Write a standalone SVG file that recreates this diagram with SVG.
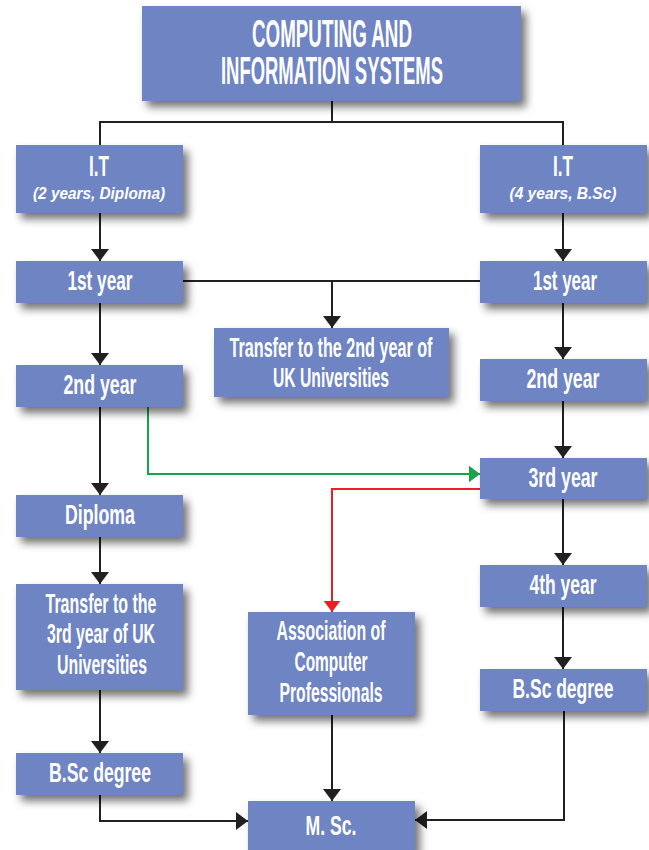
<svg xmlns="http://www.w3.org/2000/svg" width="649" height="850" viewBox="0 0 649 850">
<defs>
<filter id="sh" x="-20%" y="-20%" width="150%" height="160%">
<feDropShadow dx="5" dy="6" stdDeviation="4" flood-color="#000" flood-opacity="0.55"/>
</filter>
<marker id="ab" markerUnits="userSpaceOnUse" viewBox="0 0 12 18" markerWidth="12" markerHeight="18" refX="12" refY="9" orient="auto"><path d="M0,0 L12,9 L0,18 z" fill="#231f20"/></marker>
<marker id="ag" markerUnits="userSpaceOnUse" viewBox="0 0 12 18" markerWidth="11" markerHeight="18" refX="12" refY="9" orient="auto"><path d="M0,0 L12,9 L0,18 z" fill="#16a34a"/></marker>
<marker id="ar" markerUnits="userSpaceOnUse" viewBox="0 0 12 18" markerWidth="11" markerHeight="18" refX="12" refY="9" orient="auto"><path d="M0,0 L12,9 L0,18 z" fill="#ee1c25"/></marker>
</defs>
<style>
.box{fill:#6e84c3;filter:url(#sh)}
.t{font-family:"Liberation Sans",Arial,sans-serif;font-weight:bold;fill:#fff;text-anchor:middle;font-size:28px}
.m{font-size:27px}
.h{font-size:38px}
.i{font-size:16px;font-style:italic}
.c{fill:none;stroke:#231f20;stroke-width:2}
.g{fill:none;stroke:#16a34a;stroke-width:2}
.r{fill:none;stroke:#ee1c25;stroke-width:2}
</style>
<rect width="649" height="850" fill="#fff"/>
<g id="connectors">
<path class="c" d="M332,100 V122 M100,145 V122 H563 V145"/>
<path class="c" d="M100,213 V261" marker-end="url(#ab)"/>
<path class="c" d="M563,213 V261" marker-end="url(#ab)"/>
<path class="c" d="M183,281 H480"/>
<path class="c" d="M332,281 V328" marker-end="url(#ab)"/>
<path class="c" d="M100,303 V365" marker-end="url(#ab)"/>
<path class="c" d="M563,303 V359" marker-end="url(#ab)"/>
<path class="c" d="M100,407 V495" marker-end="url(#ab)"/>
<path class="c" d="M563,401 V458" marker-end="url(#ab)"/>
<path class="g" d="M148,407 V474 H480" marker-end="url(#ag)"/>
<path class="r" d="M480,489 H332 V612" marker-end="url(#ar)"/>
<path class="c" d="M100,537 V584" marker-end="url(#ab)"/>
<path class="c" d="M563,499 V565" marker-end="url(#ab)"/>
<path class="c" d="M563,607 V669" marker-end="url(#ab)"/>
<path class="c" d="M100,690 V753" marker-end="url(#ab)"/>
<path class="c" d="M332,715 V801" marker-end="url(#ab)"/>
<path class="c" d="M100,795 V821 H248" marker-end="url(#ab)"/>
<path class="c" d="M564,711 V820 H415" marker-end="url(#ab)"/>
</g>
<g id="title"><rect class="box" x="142" y="6" width="379" height="95"/>
<text class="t h" x="332" y="47" textLength="160" lengthAdjust="spacingAndGlyphs">COMPUTING AND</text>
<text class="t h" x="332" y="84" textLength="222" lengthAdjust="spacingAndGlyphs">INFORMATION SYSTEMS</text></g>
<g id="itL"><rect class="box" x="16" y="145" width="167" height="68"/>
<text class="t" x="99" y="176" textLength="20" lengthAdjust="spacingAndGlyphs" style="font-size:29px">I.T</text>
<text class="t i" x="99" y="199" textLength="132" lengthAdjust="spacingAndGlyphs">(2 years, Diploma)</text></g>
<g id="itR"><rect class="box" x="480" y="145" width="167" height="68"/>
<text class="t" x="563" y="176" textLength="20" lengthAdjust="spacingAndGlyphs" style="font-size:29px">I.T</text>
<text class="t i" x="563" y="199" textLength="107" lengthAdjust="spacingAndGlyphs">(4 years, B.Sc)</text></g>
<g id="y1L"><rect class="box" x="16" y="261" width="167" height="42"/>
<text class="t" x="100" y="290" textLength="65" lengthAdjust="spacingAndGlyphs">1st year</text></g>
<g id="y1R"><rect class="box" x="480" y="261" width="167" height="42"/>
<text class="t" x="565" y="290" textLength="64" lengthAdjust="spacingAndGlyphs">1st year</text></g>
<g id="tr2"><rect class="box" x="214" y="328" width="235" height="69"/>
<text class="t m" x="331" y="357" textLength="203" lengthAdjust="spacingAndGlyphs">Transfer to the 2nd year of</text>
<text class="t m" x="331" y="387" textLength="116" lengthAdjust="spacingAndGlyphs">UK Universities</text></g>
<g id="y2L"><rect class="box" x="16" y="365" width="167" height="42"/>
<text class="t" x="100" y="394" textLength="73" lengthAdjust="spacingAndGlyphs">2nd year</text></g>
<g id="y2R"><rect class="box" x="480" y="359" width="167" height="42"/>
<text class="t" x="563" y="388" textLength="73" lengthAdjust="spacingAndGlyphs">2nd year</text></g>
<g id="y3R"><rect class="box" x="480" y="458" width="167" height="41"/>
<text class="t" x="563" y="487" textLength="69" lengthAdjust="spacingAndGlyphs">3rd year</text></g>
<g id="dipL"><rect class="box" x="16" y="495" width="167" height="42"/>
<text class="t" x="100" y="524" textLength="70" lengthAdjust="spacingAndGlyphs">Diploma</text></g>
<g id="tr3"><rect class="box" x="16" y="584" width="167" height="106"/>
<text class="t m" x="101" y="613" textLength="111" lengthAdjust="spacingAndGlyphs">Transfer to the</text>
<text class="t m" x="101" y="643" textLength="108" lengthAdjust="spacingAndGlyphs">3rd year of UK</text>
<text class="t m" x="102" y="674" textLength="90" lengthAdjust="spacingAndGlyphs">Universities</text></g>
<g id="y4R"><rect class="box" x="480" y="565" width="167" height="42"/>
<text class="t" x="563" y="594" textLength="67" lengthAdjust="spacingAndGlyphs">4th year</text></g>
<g id="acp"><rect class="box" x="248" y="612" width="167" height="103"/>
<text class="t m" x="331" y="640" textLength="109" lengthAdjust="spacingAndGlyphs">Association of</text>
<text class="t m" x="331" y="671" textLength="73" lengthAdjust="spacingAndGlyphs">Computer</text>
<text class="t m" x="331" y="702" textLength="103" lengthAdjust="spacingAndGlyphs">Professionals</text></g>
<g id="bscR"><rect class="box" x="480" y="669" width="167" height="42"/>
<text class="t" x="563" y="698" textLength="101" lengthAdjust="spacingAndGlyphs">B.Sc degree</text></g>
<g id="bscL"><rect class="box" x="16" y="753" width="167" height="42"/>
<text class="t" x="100" y="782" textLength="102" lengthAdjust="spacingAndGlyphs">B.Sc degree</text></g>
<g id="msc"><rect class="box" x="248" y="801" width="167" height="52"/>
<text class="t" x="331" y="835" textLength="51" lengthAdjust="spacingAndGlyphs">M. Sc.</text></g>
</svg>
